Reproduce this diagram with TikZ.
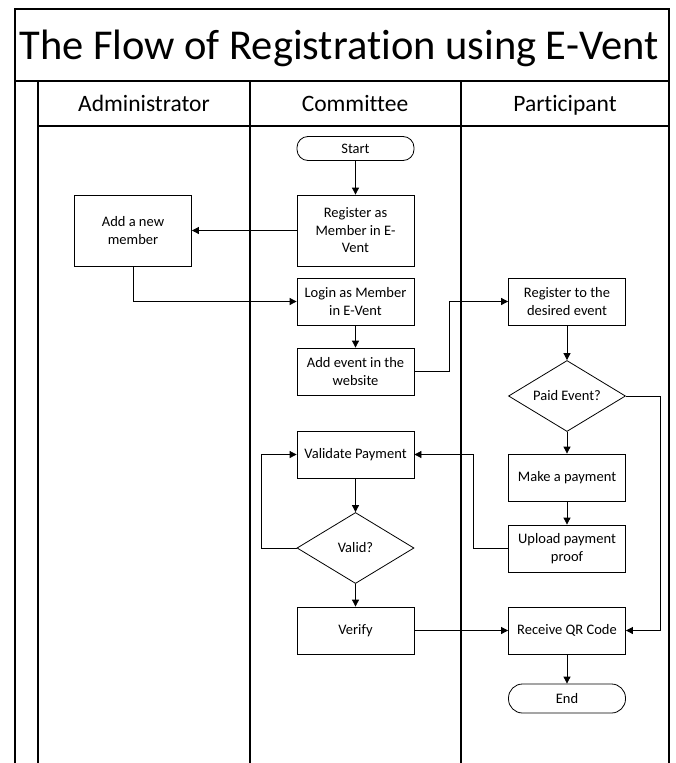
\documentclass[tikz,border=0pt]{standalone}
\usepackage{fontspec}
\setmainfont[Ligatures=NoCommon]{Carlito}
\usetikzlibrary{shapes.geometric, arrows.meta}

\begin{document}
\begin{tikzpicture}[x=1pt, y=-1pt,
  nd/.style={draw, line width=0.8pt, minimum width=117pt, minimum height=47pt, inner sep=2pt,
             align=center, font=\fontsize{14.5}{17.5}\selectfont},
  term/.style={nd, rounded corners=11pt, minimum height=24pt},
  dec/.style={draw, line width=0.8pt, diamond, aspect=1.64, minimum width=117pt, minimum height=71pt,
              inner sep=0pt, font=\fontsize{14.5}{17.5}\selectfont},
  hd/.style={anchor=base, font=\fontsize{23.5}{28}\selectfont},
  lane/.style={line width=1.1pt},
  >={Triangle[length=7pt, width=7pt]}]
\useasboundingbox (0,0) rectangle (675,763);
% pool and lanes
\draw[lane] (15,763) -- (15,9) -- (669,9) -- (669,763);
\draw[lane] (15,81) -- (669,81);
\draw[lane] (38,126) -- (669,126);
\draw[lane] (38,81) -- (38,763);
\draw[lane] (250,81) -- (250,763);
\draw[lane] (461,81) -- (461,763);
\node[anchor=base, font=\fontsize{42.5}{50}\selectfont] (title) at (339,59) {The Flow of Registration using E-Vent};
\node[hd] (hA) at (144,111) {Administrator};
\node[hd] (hC) at (355,111) {Committee};
\node[hd] (hP) at (565,111) {Participant};
% steps
\node[term] (start) at (355.5,148.5) {Start};
\node[nd, minimum height=71pt] (reg) at (355.5,230.5) {Register as\\Member in E-\\Vent};
\node[nd, minimum height=71pt] (add) at (133,230.5) {Add a new\\member};
\node[nd] (login) at (355.5,301.5) {Login as Member\\in E-Vent};
\node[nd] (ev) at (355.5,371.5) {Add event in the\\website};
\node[nd] (regev) at (567,301.5) {Register to the\\desired event};
\node[dec] (paid) at (567,396) {Paid Event?};
\node[nd] (pay) at (567,477.5) {Make a payment};
\node[nd] (up) at (567,548.5) {Upload payment\\proof};
\node[nd] (val) at (355.5,454.5) {Validate Payment};
\node[dec] (ok) at (355.5,548) {Valid?};
\node[nd] (ver) at (355.5,630.5) {Verify};
\node[nd] (qr) at (567,630.5) {Receive QR Code};
\node[term, minimum height=29pt, rounded corners=14pt] (fin) at (567,698.5) {End};
% flow
\draw[->, line width=0.8pt] (start) -- (reg);
\draw[->, line width=0.8pt] (reg) -- (add);
\draw[->, line width=0.8pt] (add) |- (login);
\draw[->, line width=0.8pt] (login) -- (ev);
\draw[->, line width=0.8pt] (ev.east) -- ++(35,0) |- (regev);
\draw[->, line width=0.8pt] (regev) -- (paid);
\draw[->, line width=0.8pt] (paid) -- (pay);
\draw[->, line width=0.8pt] (paid.east) -- ++(34,0) |- (qr);
\draw[->, line width=0.8pt] (pay) -- (up);
\draw[->, line width=0.8pt] (up.west) -- ++(-35,0) |- (val);
\draw[->, line width=0.8pt] (val) -- (ok);
\draw[->, line width=0.8pt] (ok.west) -- ++(-35,0) |- (val);
\draw[->, line width=0.8pt] (ok) -- (ver);
\draw[->, line width=0.8pt] (ver) -- (qr);
\draw[->, line width=0.8pt] (qr) -- (fin);
\end{tikzpicture}
\end{document}
